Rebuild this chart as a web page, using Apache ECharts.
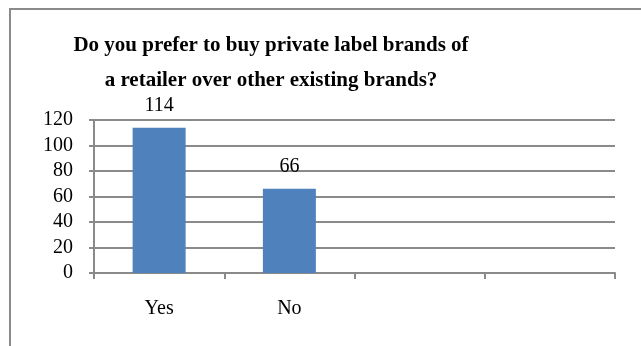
<!DOCTYPE html>
<html>
<head>
<meta charset="utf-8">
<script src="https://cdn.jsdelivr.net/npm/echarts@6/dist/echarts.min.js"></script>
<style>
  html, body { margin: 0; padding: 0; background: #ffffff; }
  #chart { width: 641px; height: 346px; }
</style>
</head>
<body>
<div id="chart"></div>
<script>
// Survey answers and their counts
const categories = ['Yes', 'No', '', ''];
const responses = [114, 66, null, null];
const yTicks = { min: 0, max: 120, interval: 20 };
const titleText = 'Do you prefer to buy private label brands of\na retailer over other existing brands?';

const serif = '"Liberation Serif", "Times New Roman", serif';
const axisGray = '#8a8a8a';

const chart = echarts.init(document.getElementById('chart'), null, { renderer: 'canvas' });

chart.setOption({
  backgroundColor: '#ffffff',
  animation: false,
  title: {
    text: titleText,
    left: 266,
    top: 23,
    textAlign: 'center',
    textStyle: {
      fontFamily: serif,
      fontWeight: 'bold',
      fontSize: 21,
      lineHeight: 35,
      color: '#000000'
    }
  },
  graphic: [{
    type: 'rect',
    silent: true,
    shape: { x: 10, y: 9, width: 700, height: 400 },
    style: { fill: 'none', stroke: axisGray, lineWidth: 2 }
  }],
  grid: { left: 94, right: 26, top: 120, bottom: 73 },
  xAxis: {
    type: 'category',
    data: categories,
    boundaryGap: true,
    axisLine: { show: true, lineStyle: { color: axisGray, width: 2 } },
    axisTick: { show: true, interval: 0, length: 6, lineStyle: { color: axisGray, width: 2 } },
    axisLabel: { interval: 0, margin: 26, fontFamily: serif, fontSize: 20, color: '#000000' },
    splitLine: { show: false }
  },
  yAxis: {
    type: 'value',
    min: yTicks.min,
    max: yTicks.max,
    interval: yTicks.interval,
    axisLine: { show: true, lineStyle: { color: axisGray, width: 2 } },
    axisTick: { show: true, length: 5, lineStyle: { color: axisGray, width: 2 } },
    axisLabel: { margin: 21, fontFamily: serif, fontSize: 20, color: '#000000' },
    splitLine: { show: true, lineStyle: { color: axisGray, width: 2 } }
  },
  series: [{
    type: 'bar',
    data: responses,
    barWidth: 53,
    itemStyle: { color: '#4f81bd' },
    label: {
      show: true,
      position: 'top',
      distance: 12,
      fontFamily: serif,
      fontSize: 20,
      color: '#000000'
    }
  }]
});
</script>
</body>
</html>
